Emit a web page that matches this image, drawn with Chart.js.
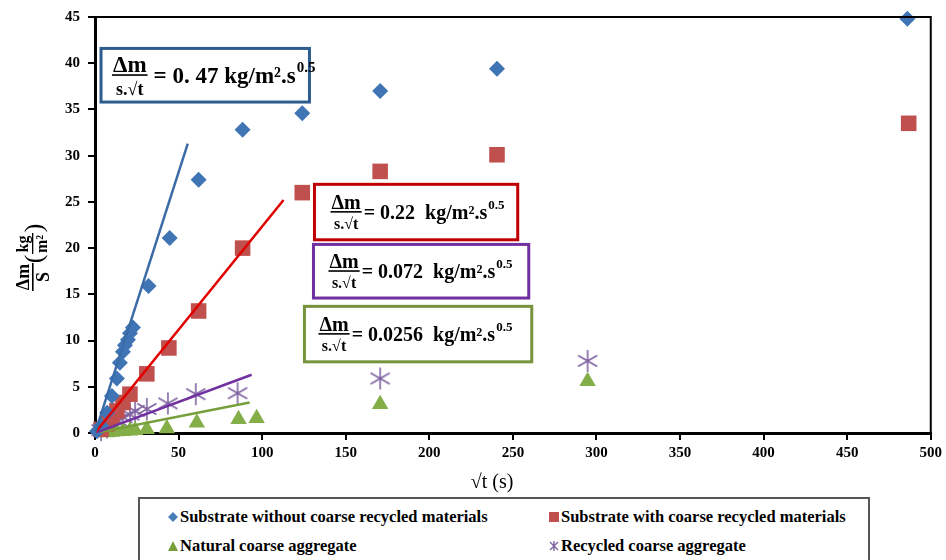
<!DOCTYPE html>
<html>
<head>
<meta charset="utf-8">
<script src="https://cdn.jsdelivr.net/npm/chart.js@4.4.0/dist/chart.umd.min.js"></script>
<style>
  body { margin: 0; background: #fff; width: 946px; height: 560px; overflow: hidden; position: relative; font-family: "Liberation Serif", "Times New Roman", serif; }
  #wrap { position: absolute; left: 0; top: 0; width: 946px; height: 495px; }
  #legend { position: absolute; left: 138px; top: 497px; width: 732px; height: 80px; border: 2px solid #555; box-sizing: border-box; font-weight: bold; font-size: 16.5px; }
  .item { position: absolute; white-space: nowrap; display: flex; align-items: center; }
  .item svg { margin-right: 2px; }
</style>
</head>
<body>
<div id="wrap"><canvas id="chart" width="946" height="495"></canvas></div>
<div id="legend">
  <div class="item" style="left:28px;top:8px"><svg width="10" height="10"><polygon points="5,0 10,5 5,10 0,5" fill="#4A7EBB"/></svg>Substrate without coarse recycled materials</div>
  <div class="item" style="left:409px;top:8px"><svg width="10" height="10"><rect x="0" y="0" width="10" height="10" fill="#C0504D"/></svg>Substrate with coarse recycled materials</div>
  <div class="item" style="left:28px;top:37px"><svg width="10" height="10"><polygon points="5,0 10,10 0,10" fill="#77A03C"/></svg>Natural coarse aggregate</div>
  <div class="item" style="left:409px;top:37px"><svg width="10" height="10"><path d="M1,1 L9,9 M9,1 L1,9 M5,0 L5,10" stroke="#8064A2" stroke-width="1.4"/></svg>Recycled coarse aggregate</div>
</div>
<script>
// sqrt(t) values and mass gain per area
const blueX = [1.2, 3.6, 7.2, 10.1, 13.1, 14.9, 16.7, 17.9, 19.7, 20.9, 22.7, 32, 44.7, 62, 88.3, 124, 170.6, 240.5, 486];
const blueY = [0.2, 0.8, 2.2, 4.0, 5.9, 7.6, 8.8, 9.5, 10.1, 10.8, 11.4, 15.9, 21.1, 27.4, 32.8, 34.6, 37.0, 39.4, 44.8];

const redX = [3.6, 7.2, 10.1, 13.1, 16.7, 20.9, 31, 44.2, 62, 88.3, 124, 170.6, 240.5, 486.8];
const redY = [0.4, 1.0, 1.7, 2.4, 3.3, 4.2, 6.4, 9.2, 13.2, 20.0, 26.0, 28.3, 30.1, 33.5];

const greenX = [7.2, 10.1, 13.1, 16.7, 20.9, 24, 31, 43, 60.9, 85.9, 96.7, 170.6, 294.7];
const greenY = [0.05, 0.1, 0.15, 0.2, 0.25, 0.3, 0.4, 0.5, 1.1, 1.5, 1.6, 3.1, 5.6];

const purpleX = [3.6, 7.2, 10.1, 13.1, 16.7, 20.9, 24, 31, 43.6, 60.3, 85.3, 170.6, 294.7];
const purpleY = [0.3, 0.6, 1.0, 1.4, 1.7, 2.0, 2.4, 2.6, 3.2, 4.2, 4.3, 5.9, 7.8];

// fitted lines (start and end)
const blueFitX = [0, 55.5];
const blueFitY = [0, 31.3];
const redFitX = [0, 112.8];
const redFitY = [0, 25.2];
const purpleFitX = [0, 93.7];
const purpleFitY = [0, 6.3];
const greenFitX = [0, 92.5];
const greenFitY = [0, 3.3];

const slopeLabels = ['0. 47', '0.22 ', '0.072 ', '0.0256 '];

const xTicks = [0, 50, 100, 150, 200, 250, 300, 350, 400, 450, 500];
const yTicks = [0, 5, 10, 15, 20, 25, 30, 35, 40, 45];

function pts(xs, ys) { return xs.map((x, i) => ({ x: x, y: ys[i] })); }

// asterisk marker (X with a vertical bar)
function makeStar(size, color) {
  const c = document.createElement('canvas');
  c.width = size; c.height = size;
  const g = c.getContext('2d');
  g.strokeStyle = color; g.lineWidth = 1.6;
  const m = size / 2, r = size / 2 - 1;
  g.beginPath();
  g.moveTo(m - r * 0.87, m - r * 0.5); g.lineTo(m + r * 0.87, m + r * 0.5);
  g.moveTo(m + r * 0.87, m - r * 0.5); g.lineTo(m - r * 0.87, m + r * 0.5);
  g.moveTo(m, 1); g.lineTo(m, size - 1);
  g.stroke();
  return c;
}
const starImg = makeStar(24, '#8064A2');

// annotation boxes in data coords: [left, top, right, bottom], text offset
const boxes = [
  { x0: 3.6, y0: 41.6, x1: 128.3, y1: 35.8, color: '#2F5C8F', pad: 11, size: 23, gap: 6, label: slopeLabels[0] },
  { x0: 131.3, y0: 26.9, x1: 252.9, y1: 20.9, color: '#C00000', pad: 16, size: 20, gap: 2, label: slopeLabels[1] },
  { x0: 130.7, y0: 20.4, x1: 259.5, y1: 14.6, color: '#7030A0', pad: 15, size: 20, gap: 2, label: slopeLabels[2] },
  { x0: 125.3, y0: 13.7, x1: 261.3, y1: 7.7, color: '#77933C', pad: 14, size: 20, gap: 2, label: slopeLabels[3] }
];

const SERIF = '"Liberation Serif", "Times New Roman", serif';

function drawFormula(ctx, x, cy, value, size, gap) {
  ctx.save();
  ctx.fillStyle = '#000';
  ctx.textBaseline = 'alphabetic';
  const numFont = 'bold ' + size + 'px ' + SERIF;
  const denFont = 'bold ' + Math.round(size * 0.8) + 'px ' + SERIF;
  ctx.font = numFont; const nw = ctx.measureText('Δm').width;
  ctx.font = denFont; const dw = ctx.measureText('s.√t').width;
  const fw = Math.max(nw, dw) + 2;
  ctx.textAlign = 'center';
  ctx.font = numFont;
  ctx.fillText('Δm', x + fw / 2, cy - 3);
  ctx.font = denFont;
  ctx.fillText('s.√t', x + fw / 2, cy + size * 0.8 + 1);
  ctx.fillRect(x, cy - 1, fw, 1.6);
  ctx.textAlign = 'left';
  let cx = x + fw + gap;
  ctx.font = numFont;
  const main = '= ' + value + ' kg/m².s';
  ctx.fillText(main, cx, cy + size * 0.35);
  cx += ctx.measureText(main).width;
  ctx.font = 'bold ' + Math.round(size * 0.66) + 'px ' + SERIF;
  ctx.fillText('0.5', cx + 1, cy - size * 0.15);
  ctx.restore();
}

const extras = {
  id: 'extras',
  afterDraw(chart) {
    const ctx = chart.ctx, a = chart.chartArea;
    const xs = chart.scales.x, ys = chart.scales.y;
    ctx.save();
    // top/right frame
    ctx.strokeStyle = '#000'; ctx.lineWidth = 2;
    ctx.beginPath();
    ctx.moveTo(a.left, a.top); ctx.lineTo(a.right, a.top); ctx.lineTo(a.right, a.bottom);
    ctx.stroke();

    // slope boxes
    boxes.forEach(b => {
      const l = xs.getPixelForValue(b.x0), t = ys.getPixelForValue(b.y0);
      const r = xs.getPixelForValue(b.x1), btm = ys.getPixelForValue(b.y1);
      ctx.fillStyle = '#fff';
      ctx.fillRect(l, t, r - l, btm - t);
      ctx.strokeStyle = b.color; ctx.lineWidth = 3;
      ctx.strokeRect(l, t, r - l, btm - t);
      drawFormula(ctx, l + b.pad, (t + btm) / 2, b.label, b.size, b.gap);
    });

    // x title, sits a bit left of the axis centre in the original
    ctx.fillStyle = '#000';
    ctx.textAlign = 'center';
    ctx.textBaseline = 'alphabetic';
    ctx.font = '20px ' + SERIF;
    ctx.fillText('√t (s)', 492, a.bottom + 55);

    // rotated y title: Δm/S (kg/m²)
    ctx.translate(33, 262);
    ctx.rotate(-Math.PI / 2);
    ctx.font = 'bold 18px ' + SERIF;
    ctx.fillText('Δm', -15, -4);
    ctx.fillText('S', -15, 16);
    ctx.fillRect(-29, -1, 28, 1.6);
    ctx.font = 'bold 16px ' + SERIF;
    ctx.fillText('kg', 18, -5);
    ctx.fillText('m²', 18, 14);
    ctx.fillRect(8, -1, 21, 1.3);
    ctx.font = '26px ' + SERIF;
    ctx.fillText('(', 3, 9);
    ctx.fillText(')', 34, 9);
    ctx.restore();
  }
};

new Chart(document.getElementById('chart'), {
  type: 'scatter',
  data: {
    datasets: [
      { type: 'line', data: pts(blueFitX, blueFitY), borderColor: '#3A6BA6', borderWidth: 2.5, pointRadius: 0, order: 0 },
      { type: 'line', data: pts(redFitX, redFitY), borderColor: '#E00000', borderWidth: 2.5, pointRadius: 0, order: 0 },
      { type: 'line', data: pts(purpleFitX, purpleFitY), borderColor: '#7030A0', borderWidth: 2.5, pointRadius: 0, order: 0 },
      { type: 'line', data: pts(greenFitX, greenFitY), borderColor: '#77A03C', borderWidth: 2.5, pointRadius: 0, order: 0 },
      { label: 'Substrate without coarse recycled materials', data: pts(blueX, blueY), pointStyle: 'rectRot', pointRadius: 8, backgroundColor: '#3F74B5', borderColor: '#3F74B5', borderWidth: 0, clip: false, order: 1 },
      { label: 'Substrate with coarse recycled materials', data: pts(redX, redY), pointStyle: 'rect', pointRadius: 11, backgroundColor: '#C0504D', borderColor: '#C0504D', borderWidth: 0, clip: false, order: 1 },
      { label: 'Natural coarse aggregate', data: pts(greenX, greenY), pointStyle: 'triangle', pointRadius: 9.5, backgroundColor: '#84AE47', borderColor: '#84AE47', borderWidth: 0, clip: false, order: 1 },
      { label: 'Recycled coarse aggregate', data: pts(purpleX, purpleY), pointStyle: starImg, pointRadius: 12, clip: false, order: 1 }
    ]
  },
  options: {
    responsive: false,
    animation: false,
    layout: { padding: { top: 15, right: 13, left: 0, bottom: 29 } },
    plugins: { legend: { display: false }, tooltip: { enabled: false } },
    scales: {
      x: {
        type: 'linear', min: 0, max: 500,
        afterBuildTicks: s => { s.ticks = xTicks.map(v => ({ value: v })); },
        grid: { drawOnChartArea: false, drawTicks: true, tickLength: 7, color: '#000', lineWidth: 2 },
        border: { color: '#000', width: 3 },
        ticks: { color: '#000', font: { family: SERIF, weight: 'bold', size: 15 }, padding: 4, maxRotation: 0 }
      },
      y: {
        type: 'linear', min: 0, max: 45,
        afterBuildTicks: s => { s.ticks = yTicks.map(v => ({ value: v })); },
        afterFit: s => { s.width = 95; },
        grid: { drawOnChartArea: false, drawTicks: true, tickLength: 7, color: '#000', lineWidth: 2 },
        border: { color: '#000', width: 3 },
        ticks: { color: '#000', font: { family: SERIF, weight: 'bold', size: 15 }, padding: 8 }
      }
    }
  },
  plugins: [extras]
});
</script>
</body>
</html>
